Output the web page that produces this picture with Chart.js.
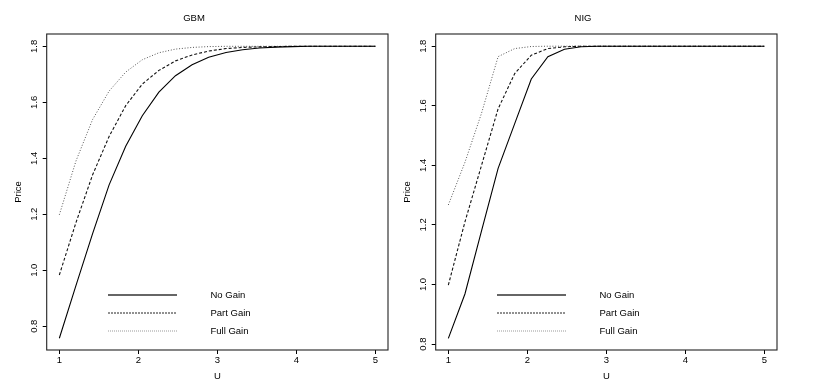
<!DOCTYPE html>
<html>
<head>
<meta charset="utf-8">
<script src="https://cdn.jsdelivr.net/npm/chart.js@4.4.1/dist/chart.umd.min.js"></script>
<style>
body { margin: 0; background: #fff; width: 819px; height: 390px; overflow: hidden; position: relative; font-family: "Liberation Sans", Arial, sans-serif; }
.panel { position: absolute; top: 0; width: 400px; height: 390px; }
.panel canvas { position: absolute; left: 0; top: 0; }
.leg { position: absolute; left: 0; top: 0; font-size: 9.5px; color: #000; }
.row { position: absolute; white-space: nowrap; }
.row svg { position: absolute; left: 0; top: 0; }
.row span { position: absolute; top: 0; line-height: 12px; }
</style>
</head>
<body>
<div class="panel" id="p1" style="left:0px"><canvas id="gbm" width="400" height="390"></canvas></div>
<div class="panel" id="p2" style="left:389px"><canvas id="nig" width="400" height="390"></canvas></div>
<script>
// U grid (20 points from 1 to 5)
const uValues = [1.00, 1.21, 1.42, 1.63, 1.84, 2.05, 2.26, 2.47, 2.68, 2.89, 3.11, 3.32, 3.53, 3.74, 3.95, 4.16, 4.37, 4.58, 4.79, 5.00];

const seriesNames = ["No Gain", "Part Gain", "Full Gain"];

// GBM panel
const gbmNoGain   = [0.757, 0.945, 1.130, 1.305, 1.443, 1.552, 1.636, 1.695, 1.734, 1.761, 1.778, 1.788, 1.794, 1.797, 1.799, 1.800, 1.800, 1.800, 1.800, 1.800];
const gbmPartGain = [0.983, 1.170, 1.340, 1.478, 1.588, 1.665, 1.714, 1.748, 1.769, 1.783, 1.792, 1.796, 1.798, 1.799, 1.800, 1.800, 1.800, 1.800, 1.800, 1.800];
const gbmFullGain = [1.198, 1.390, 1.538, 1.640, 1.708, 1.752, 1.777, 1.790, 1.796, 1.799, 1.800, 1.800, 1.800, 1.800, 1.800, 1.800, 1.800, 1.800, 1.800, 1.800];

// NIG panel
const nigNoGain   = [0.819, 0.968, 1.180, 1.390, 1.540, 1.690, 1.765, 1.790, 1.798, 1.800, 1.800, 1.800, 1.800, 1.800, 1.800, 1.800, 1.800, 1.800, 1.800, 1.800];
const nigPartGain = [0.998, 1.210, 1.400, 1.590, 1.708, 1.770, 1.792, 1.798, 1.800, 1.800, 1.800, 1.800, 1.800, 1.800, 1.800, 1.800, 1.800, 1.800, 1.800, 1.800];
const nigFullGain = [1.267, 1.410, 1.575, 1.765, 1.792, 1.799, 1.800, 1.800, 1.800, 1.800, 1.800, 1.800, 1.800, 1.800, 1.800, 1.800, 1.800, 1.800, 1.800, 1.800];

const uTicks = [1, 2, 3, 4, 5];
const priceTicks = [0.8, 1.0, 1.2, 1.4, 1.6, 1.8];

const FONT = "'Liberation Sans', Arial, sans-serif";
Chart.defaults.font.family = FONT;
Chart.defaults.font.size = 9.5;
Chart.defaults.color = "#000";

// line styles: solid, dashed, dotted
const styles = [
  { color: "#000", dash: [], width: 1.1 },
  { color: "#111", dash: [3, 2], width: 1.1 },
  { color: "#555", dash: [1, 1.8], width: 1 }
];

// frame around plot region (R style box)
const boxPlugin = {
  id: "box",
  afterDraw(chart) {
    const a = chart.chartArea, c = chart.ctx;
    c.save();
    c.strokeStyle = "#222";
    c.lineWidth = 1.1;
    c.strokeRect(a.left, a.top, a.right - a.left, a.bottom - a.top);
    c.restore();
  }
};

function makeChart(id, title, yMin, yMax, series) {
  const datasets = series.map((vals, k) => ({
    label: seriesNames[k],
    data: uValues.map((u, i) => ({ x: u, y: vals[i] })),
    borderColor: styles[k].color,
    borderDash: styles[k].dash,
    borderWidth: styles[k].width,
    pointRadius: 0,
    tension: 0,
    fill: false
  }));
  return new Chart(document.getElementById(id), {
    type: "line",
    data: { datasets: datasets },
    plugins: [boxPlugin],
    options: {
      responsive: false,
      animation: false,
      layout: { padding: { left: 0, right: 12, top: 0, bottom: 0 } },
      plugins: {
        legend: { display: false },
        tooltip: { enabled: false },
        title: {
          display: true, text: title, color: "#000",
          font: { size: 9.5, weight: "normal" },
          padding: { top: 12.6, bottom: 10 }
        }
      },
      scales: {
        x: {
          type: "linear", min: 0.84, max: 5.16,
          afterBuildTicks: s => { s.ticks = uTicks.map(v => ({ value: v })); },
          afterFit: s => { s.height = 40; },
          border: { display: false },
          grid: { drawOnChartArea: false, drawTicks: true, tickLength: 4, color: "#000" },
          ticks: { padding: 1, autoSkip: false, maxRotation: 0, callback: v => String(v) },
          title: { display: true, text: "U", padding: { top: 0, bottom: 7.6 } }
        },
        y: {
          type: "linear", min: yMin, max: yMax,
          afterBuildTicks: s => { s.ticks = priceTicks.map(v => ({ value: v })); },
          afterFit: s => { s.width = 46.7; },
          border: { display: false },
          grid: { drawOnChartArea: false, drawTicks: true, tickLength: 4, color: "#000" },
          ticks: { padding: 1.8, autoSkip: false, minRotation: 90, maxRotation: 90, crossAlign: "center",
                   callback: v => v.toFixed(1) },
          title: { display: true, text: "Price", padding: { top: 12.6, bottom: 0 } }
        }
      }
    }
  });
}

makeChart("gbm", "GBM", 0.715, 1.844, [gbmNoGain, gbmPartGain, gbmFullGain]);
makeChart("nig", "NIG", 0.78, 1.841, [nigNoGain, nigPartGain, nigFullGain]);

// legend (no box), drawn as html
const legRows = [295, 313, 331];
const legStroke = [
  { color: "#333", width: 1.5, dash: "" },
  { color: "#222", width: 1, dash: "2 1" },
  { color: "#999", width: 1, dash: "1 1" }
];
["p1", "p2"].forEach(pid => {
  const leg = document.createElement("div");
  leg.className = "leg";
  seriesNames.forEach((name, k) => {
    const row = document.createElement("div");
    row.className = "row";
    row.style.left = "108px";
    row.style.top = (legRows[k] - 6) + "px";
    const st = legStroke[k];
    row.innerHTML =
      '<svg width="70" height="12"><line x1="0" y1="6" x2="69" y2="6" stroke="' + st.color +
      '" stroke-width="' + st.width + '"' + (st.dash ? ' stroke-dasharray="' + st.dash + '"' : '') + '/></svg>' +
      '<span style="left:102.5px">' + name + '</span>';
    leg.appendChild(row);
  });
  document.getElementById(pid).appendChild(leg);
});
</script>
</body>
</html>
